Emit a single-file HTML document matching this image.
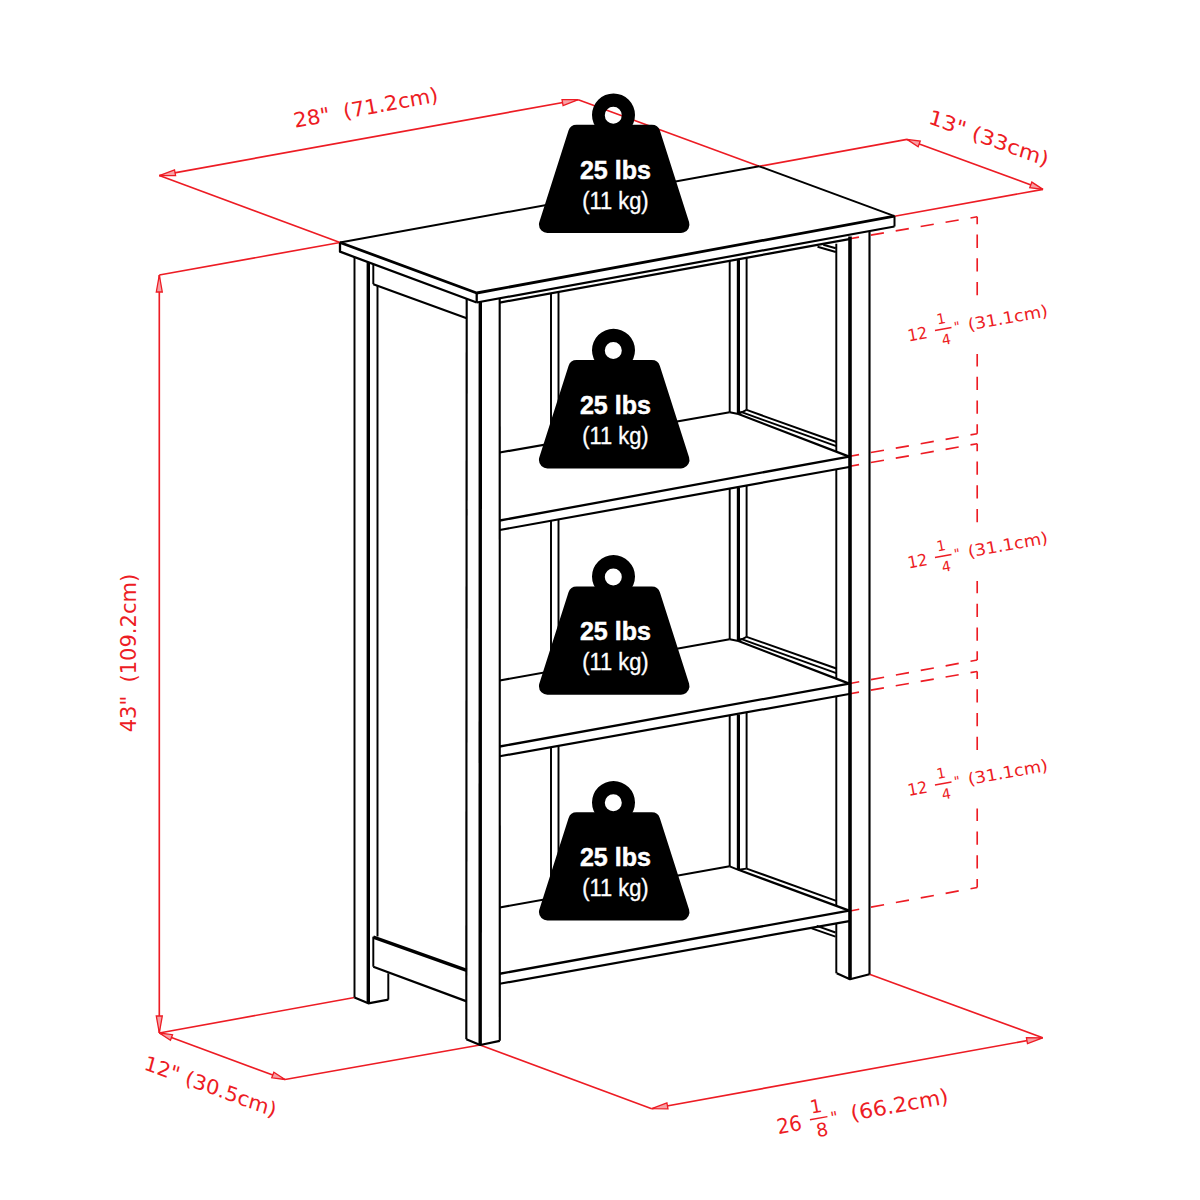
<!DOCTYPE html>
<html lang="en"><head><meta charset="utf-8"><title>Bookshelf dimensions</title>
<style>
html,body{margin:0;padding:0;background:#fff;}
body{width:1200px;height:1200px;overflow:hidden;}
svg{display:block;}
</style></head><body>
<svg width="1200" height="1200" viewBox="0 0 1200 1200">
<rect width="1200" height="1200" fill="#fff"/>
<g id="dims" stroke-linecap="butt">
<line x1="159.30" y1="175.60" x2="578.30" y2="99.70" stroke="#ed1c24" stroke-width="1.65" />
<polygon points="159.30,175.60 175.58,175.70 174.51,169.80" stroke="#ed1c24" stroke-width="1.3" fill="#f7a1a5" stroke-linejoin="miter"/>
<polygon points="578.30,99.70 562.02,99.60 563.09,105.50" stroke="#ed1c24" stroke-width="1.3" fill="#f7a1a5" stroke-linejoin="miter"/>
<line x1="159.30" y1="175.60" x2="340.00" y2="242.50" stroke="#ed1c24" stroke-width="1.65" />
<line x1="578.30" y1="99.70" x2="759.20" y2="166.30" stroke="#ed1c24" stroke-width="1.65" />
<line x1="759.20" y1="166.30" x2="907.00" y2="139.40" stroke="#ed1c24" stroke-width="1.65" />
<line x1="907.00" y1="139.40" x2="1043.00" y2="189.40" stroke="#ed1c24" stroke-width="1.65" />
<polygon points="907.00,139.40 918.17,146.70 920.24,141.07" stroke="#ed1c24" stroke-width="1.3" fill="#f7a1a5" stroke-linejoin="miter"/>
<polygon points="1043.00,189.40 1031.83,182.10 1029.76,187.73" stroke="#ed1c24" stroke-width="1.3" fill="#f7a1a5" stroke-linejoin="miter"/>
<line x1="894.50" y1="216.20" x2="1043.00" y2="189.40" stroke="#ed1c24" stroke-width="1.65" />
<line x1="340.00" y1="242.50" x2="159.30" y2="275.00" stroke="#ed1c24" stroke-width="1.65" />
<line x1="159.30" y1="275.00" x2="159.30" y2="1033.00" stroke="#ed1c24" stroke-width="1.65" />
<polygon points="159.30,275.00 156.30,292.00 162.30,292.00" stroke="#ed1c24" stroke-width="1.3" fill="#f7a1a5" stroke-linejoin="miter"/>
<polygon points="159.30,1033.00 162.30,1016.00 156.30,1016.00" stroke="#ed1c24" stroke-width="1.3" fill="#f7a1a5" stroke-linejoin="miter"/>
<line x1="354.50" y1="997.50" x2="159.30" y2="1033.00" stroke="#ed1c24" stroke-width="1.65" />
<line x1="159.30" y1="1033.00" x2="285.00" y2="1079.50" stroke="#ed1c24" stroke-width="1.65" />
<polygon points="159.30,1033.00 170.45,1040.32 172.53,1034.70" stroke="#ed1c24" stroke-width="1.3" fill="#f7a1a5" stroke-linejoin="miter"/>
<polygon points="285.00,1079.50 273.85,1072.18 271.77,1077.80" stroke="#ed1c24" stroke-width="1.3" fill="#f7a1a5" stroke-linejoin="miter"/>
<line x1="285.00" y1="1079.50" x2="480.00" y2="1045.00" stroke="#ed1c24" stroke-width="1.65" />
<line x1="480.00" y1="1045.00" x2="651.70" y2="1108.70" stroke="#ed1c24" stroke-width="1.65" />
<line x1="651.70" y1="1108.70" x2="1042.70" y2="1037.80" stroke="#ed1c24" stroke-width="1.65" />
<polygon points="651.70,1108.70 667.98,1108.80 666.91,1102.89" stroke="#ed1c24" stroke-width="1.3" fill="#f7a1a5" stroke-linejoin="miter"/>
<polygon points="1042.70,1037.80 1026.42,1037.70 1027.49,1043.61" stroke="#ed1c24" stroke-width="1.3" fill="#f7a1a5" stroke-linejoin="miter"/>
<line x1="869.50" y1="974.20" x2="1042.70" y2="1037.80" stroke="#ed1c24" stroke-width="1.65" />
</g>
<g id="dashed" fill="none">
<path d="M977.20 216.80L850.00 238.70" stroke="#ed1c24" stroke-width="1.65" stroke-dasharray="13.3 12" stroke-dashoffset="6.5"/>
<path d="M977.2 216.80L977.2 433.75" stroke="#ed1c24" stroke-width="1.65" stroke-dasharray="13.3 10.4" stroke-dashoffset="5.9"/>
<path d="M977.20 433.75L850.00 456.25" stroke="#ed1c24" stroke-width="1.65" stroke-dasharray="13.3 12" stroke-dashoffset="6.5"/>
<path d="M977.20 443.75L850.00 466.25" stroke="#ed1c24" stroke-width="1.65" stroke-dasharray="13.3 12" stroke-dashoffset="6.5"/>
<path d="M977.2 443.75L977.2 660.00" stroke="#ed1c24" stroke-width="1.65" stroke-dasharray="13.3 10.4" stroke-dashoffset="5.9"/>
<path d="M977.20 660.00L850.00 683.50" stroke="#ed1c24" stroke-width="1.65" stroke-dasharray="13.3 12" stroke-dashoffset="6.5"/>
<path d="M977.20 671.50L850.00 693.75" stroke="#ed1c24" stroke-width="1.65" stroke-dasharray="13.3 12" stroke-dashoffset="6.5"/>
<path d="M977.2 671.50L977.2 887.50" stroke="#ed1c24" stroke-width="1.65" stroke-dasharray="13.3 10.4" stroke-dashoffset="5.9"/>
<path d="M977.20 887.50L850.00 911.00" stroke="#ed1c24" stroke-width="1.65" stroke-dasharray="13.3 12" stroke-dashoffset="6.5"/>
</g>
<g id="furniture" stroke-linecap="butt" stroke-linejoin="round">
<polygon points="340.00,242.50 476.70,293.00 894.50,216.20 759.20,166.30" stroke="#000" stroke-width="0" fill="#fff" />
<polygon points="340.00,242.50 340.00,251.70 476.70,302.50 476.70,293.00" stroke="#000" stroke-width="0" fill="#fff" />
<polygon points="476.70,293.00 476.70,302.50 894.50,226.50 894.50,216.20" stroke="#000" stroke-width="0" fill="#fff" />
<line x1="340.00" y1="242.50" x2="759.20" y2="166.30" stroke="#000" stroke-width="1.95" />
<line x1="759.20" y1="166.30" x2="894.50" y2="216.20" stroke="#000" stroke-width="1.95" />
<polyline points="340.00,242.50 476.70,293.00 894.50,216.20" stroke="#000" stroke-width="2.8" fill="none" />
<polyline points="340.00,242.50 340.00,251.70 476.70,302.50" stroke="#000" stroke-width="2.3" fill="none" />
<line x1="476.70" y1="302.50" x2="894.50" y2="226.50" stroke="#000" stroke-width="2.2" />
<line x1="476.70" y1="293.00" x2="476.70" y2="302.50" stroke="#000" stroke-width="2.3" />
<line x1="894.50" y1="216.20" x2="894.50" y2="226.50" stroke="#000" stroke-width="2.0" />
<line x1="354.50" y1="257.09" x2="354.50" y2="997.50" stroke="#000" stroke-width="1.95" />
<line x1="368.30" y1="262.22" x2="368.30" y2="1003.30" stroke="#000" stroke-width="3.4" />
<line x1="388.30" y1="973.30" x2="388.30" y2="999.70" stroke="#000" stroke-width="1.95" />
<polyline points="354.50,997.50 368.30,1003.30 388.30,999.70" stroke="#000" stroke-width="2.2" fill="none" />
<line x1="373.30" y1="264.07" x2="373.30" y2="284.20" stroke="#000" stroke-width="1.95" />
<line x1="373.30" y1="284.20" x2="466.70" y2="318.20" stroke="#000" stroke-width="2.2" />
<line x1="377.50" y1="285.80" x2="377.50" y2="936.50" stroke="#000" stroke-width="1.95" />
<line x1="373.30" y1="937.20" x2="466.70" y2="970.30" stroke="#000" stroke-width="3.4" />
<line x1="373.30" y1="936.70" x2="373.30" y2="966.70" stroke="#000" stroke-width="1.95" />
<line x1="373.30" y1="966.70" x2="466.70" y2="1001.40" stroke="#000" stroke-width="2.2" />
<line x1="466.70" y1="298.78" x2="466.30" y2="1039.20" stroke="#000" stroke-width="2.15" />
<line x1="480.30" y1="302.00" x2="480.20" y2="1045.00" stroke="#000" stroke-width="3.4" />
<line x1="499.70" y1="298.50" x2="499.80" y2="1040.80" stroke="#000" stroke-width="2.15" />
<polyline points="466.30,1039.20 480.20,1045.00 499.80,1040.80" stroke="#000" stroke-width="2.2" fill="none" />
<line x1="499.70" y1="302.60" x2="849.20" y2="239.10" stroke="#000" stroke-width="2.2" />
<line x1="551.00" y1="293.28" x2="551.00" y2="443.53" stroke="#000" stroke-width="1.95" />
<line x1="558.50" y1="291.92" x2="558.50" y2="442.22" stroke="#000" stroke-width="1.95" />
<line x1="729.70" y1="260.81" x2="729.70" y2="412.30" stroke="#000" stroke-width="1.95" />
<line x1="738.40" y1="260.03" x2="738.40" y2="414.00" stroke="#000" stroke-width="3.1999999999999997" />
<line x1="746.60" y1="257.74" x2="746.60" y2="409.90" stroke="#000" stroke-width="1.95" />
<line x1="836.30" y1="243.70" x2="836.30" y2="451.50" stroke="#000" stroke-width="1.95" />
<line x1="499.70" y1="452.50" x2="729.70" y2="412.30" stroke="#000" stroke-width="2.15" />
<polyline points="729.70,412.30 738.40,414.00 746.60,409.90" stroke="#000" stroke-width="1.95" fill="none" />
<line x1="738.40" y1="414.00" x2="849.20" y2="456.60" stroke="#000" stroke-width="2.2" />
<line x1="746.60" y1="409.90" x2="836.30" y2="442.00" stroke="#000" stroke-width="1.95" />
<line x1="740.20" y1="411.70" x2="836.30" y2="446.20" stroke="#000" stroke-width="1.95" />
<line x1="499.70" y1="520.50" x2="849.20" y2="456.60" stroke="#000" stroke-width="2.3" />
<line x1="499.70" y1="530.00" x2="849.20" y2="467.00" stroke="#000" stroke-width="2.2" />
<line x1="551.00" y1="520.75" x2="551.00" y2="671.31" stroke="#000" stroke-width="1.95" />
<line x1="558.50" y1="519.40" x2="558.50" y2="669.97" stroke="#000" stroke-width="1.95" />
<line x1="729.70" y1="488.54" x2="729.70" y2="639.30" stroke="#000" stroke-width="1.95" />
<line x1="738.40" y1="487.77" x2="738.40" y2="641.00" stroke="#000" stroke-width="3.1999999999999997" />
<line x1="746.60" y1="485.49" x2="746.60" y2="636.90" stroke="#000" stroke-width="1.95" />
<line x1="836.30" y1="469.83" x2="836.30" y2="678.00" stroke="#000" stroke-width="1.95" />
<line x1="499.70" y1="680.50" x2="729.70" y2="639.30" stroke="#000" stroke-width="2.15" />
<polyline points="729.70,639.30 738.40,641.00 746.60,636.90" stroke="#000" stroke-width="1.95" fill="none" />
<line x1="738.40" y1="641.00" x2="849.20" y2="683.60" stroke="#000" stroke-width="2.2" />
<line x1="746.60" y1="636.90" x2="836.30" y2="668.50" stroke="#000" stroke-width="1.95" />
<line x1="740.20" y1="638.70" x2="836.30" y2="673.20" stroke="#000" stroke-width="1.95" />
<line x1="499.70" y1="746.50" x2="849.20" y2="683.60" stroke="#000" stroke-width="2.3" />
<line x1="499.70" y1="756.25" x2="849.20" y2="694.00" stroke="#000" stroke-width="2.2" />
<line x1="551.00" y1="747.11" x2="551.00" y2="898.31" stroke="#000" stroke-width="1.95" />
<line x1="558.50" y1="745.78" x2="558.50" y2="896.97" stroke="#000" stroke-width="1.95" />
<line x1="729.70" y1="715.28" x2="729.70" y2="866.30" stroke="#000" stroke-width="1.95" />
<line x1="738.40" y1="714.53" x2="738.40" y2="869.80" stroke="#000" stroke-width="3.1999999999999997" />
<line x1="746.60" y1="712.27" x2="746.60" y2="868.60" stroke="#000" stroke-width="1.95" />
<line x1="836.30" y1="696.80" x2="836.30" y2="905.80" stroke="#000" stroke-width="1.95" />
<line x1="499.70" y1="907.50" x2="729.70" y2="866.30" stroke="#000" stroke-width="2.15" />
<polyline points="729.70,866.30 738.40,869.80 746.60,868.60" stroke="#000" stroke-width="1.95" fill="none" />
<line x1="738.40" y1="869.80" x2="849.20" y2="910.60" stroke="#000" stroke-width="2.2" />
<line x1="746.60" y1="868.60" x2="836.30" y2="900.80" stroke="#000" stroke-width="1.95" />
<line x1="499.70" y1="973.75" x2="849.20" y2="910.60" stroke="#000" stroke-width="2.3" />
<line x1="499.70" y1="983.75" x2="849.20" y2="921.10" stroke="#000" stroke-width="2.2" />
<line x1="836.30" y1="923.91" x2="836.30" y2="973.30" stroke="#000" stroke-width="1.95" />
<line x1="817.50" y1="246.70" x2="835.80" y2="252.00" stroke="#000" stroke-width="1.95" />
<line x1="823.30" y1="244.70" x2="835.80" y2="248.30" stroke="#000" stroke-width="1.95" />
<line x1="811.70" y1="928.30" x2="835.50" y2="936.70" stroke="#000" stroke-width="1.95" />
<line x1="816.70" y1="925.80" x2="835.50" y2="932.50" stroke="#000" stroke-width="1.95" />
<line x1="850.00" y1="236.50" x2="850.00" y2="979.20" stroke="#000" stroke-width="3.6" />
<line x1="869.50" y1="231.50" x2="869.50" y2="974.20" stroke="#000" stroke-width="2.15" />
<polyline points="836.70,973.30 850.00,979.20 869.50,974.20" stroke="#000" stroke-width="2.2" fill="none" />
</g>
<g transform="translate(0,0)">
<path fill-rule="evenodd" fill="#000" d="M592.0 114.9a21.5 21.5 0 1 0 43 0a21.5 21.5 0 1 0 -43 0ZM604.8000000000001 115.2a8.5 8.5 0 1 0 17 0a8.5 8.5 0 1 0 -17 0Z"/>
<polygon points="576.61,133.20 651.79,133.20 680.96,224.50 547.44,224.50" fill="#000" stroke="#000" stroke-width="17.0" stroke-linejoin="round"/>
<text x="615.4000000000001" y="178.8" text-anchor="middle" font-family="'Liberation Sans', sans-serif" font-weight="700" font-size="26.5" fill="#fff" stroke="#fff" stroke-width="0.5" textLength="71" lengthAdjust="spacingAndGlyphs">25 lbs</text>
<text x="615.4000000000001" y="208.7" text-anchor="middle" font-family="'Liberation Sans', sans-serif" font-size="23" fill="#fff" stroke="#fff" stroke-width="0.35" textLength="66.5" lengthAdjust="spacingAndGlyphs">(11 kg)</text>
</g>
<g transform="translate(0,235.4)">
<path fill-rule="evenodd" fill="#000" d="M592.0 114.9a21.5 21.5 0 1 0 43 0a21.5 21.5 0 1 0 -43 0ZM604.8000000000001 115.2a8.5 8.5 0 1 0 17 0a8.5 8.5 0 1 0 -17 0Z"/>
<polygon points="576.61,133.20 651.79,133.20 680.96,224.50 547.44,224.50" fill="#000" stroke="#000" stroke-width="17.0" stroke-linejoin="round"/>
<text x="615.4000000000001" y="178.8" text-anchor="middle" font-family="'Liberation Sans', sans-serif" font-weight="700" font-size="26.5" fill="#fff" stroke="#fff" stroke-width="0.5" textLength="71" lengthAdjust="spacingAndGlyphs">25 lbs</text>
<text x="615.4000000000001" y="208.7" text-anchor="middle" font-family="'Liberation Sans', sans-serif" font-size="23" fill="#fff" stroke="#fff" stroke-width="0.35" textLength="66.5" lengthAdjust="spacingAndGlyphs">(11 kg)</text>
</g>
<g transform="translate(0,461.7)">
<path fill-rule="evenodd" fill="#000" d="M592.0 114.9a21.5 21.5 0 1 0 43 0a21.5 21.5 0 1 0 -43 0ZM604.8000000000001 115.2a8.5 8.5 0 1 0 17 0a8.5 8.5 0 1 0 -17 0Z"/>
<polygon points="576.61,133.20 651.79,133.20 680.96,224.50 547.44,224.50" fill="#000" stroke="#000" stroke-width="17.0" stroke-linejoin="round"/>
<text x="615.4000000000001" y="178.8" text-anchor="middle" font-family="'Liberation Sans', sans-serif" font-weight="700" font-size="26.5" fill="#fff" stroke="#fff" stroke-width="0.5" textLength="71" lengthAdjust="spacingAndGlyphs">25 lbs</text>
<text x="615.4000000000001" y="208.7" text-anchor="middle" font-family="'Liberation Sans', sans-serif" font-size="23" fill="#fff" stroke="#fff" stroke-width="0.35" textLength="66.5" lengthAdjust="spacingAndGlyphs">(11 kg)</text>
</g>
<g transform="translate(0,687.6)">
<path fill-rule="evenodd" fill="#000" d="M592.0 114.9a21.5 21.5 0 1 0 43 0a21.5 21.5 0 1 0 -43 0ZM604.8000000000001 115.2a8.5 8.5 0 1 0 17 0a8.5 8.5 0 1 0 -17 0Z"/>
<polygon points="576.61,133.20 651.79,133.20 680.96,224.50 547.44,224.50" fill="#000" stroke="#000" stroke-width="17.0" stroke-linejoin="round"/>
<text x="615.4000000000001" y="178.8" text-anchor="middle" font-family="'Liberation Sans', sans-serif" font-weight="700" font-size="26.5" fill="#fff" stroke="#fff" stroke-width="0.5" textLength="71" lengthAdjust="spacingAndGlyphs">25 lbs</text>
<text x="615.4000000000001" y="208.7" text-anchor="middle" font-family="'Liberation Sans', sans-serif" font-size="23" fill="#fff" stroke="#fff" stroke-width="0.35" textLength="66.5" lengthAdjust="spacingAndGlyphs">(11 kg)</text>
</g>
<text transform="translate(295,127.8) rotate(-10.3)" font-family="'DejaVu Sans', 'Liberation Sans', sans-serif" font-size="20.5" fill="#ed1c24" text-anchor="start" textLength="146.5" lengthAdjust="spacingAndGlyphs" xml:space="preserve" style="white-space:pre">28"  (71.2cm)</text>
<text transform="translate(927.4,122.9) rotate(20.2) skewX(5)" font-family="'DejaVu Sans', 'Liberation Sans', sans-serif" font-size="20" fill="#ed1c24" text-anchor="start" textLength="127" lengthAdjust="spacingAndGlyphs" xml:space="preserve" style="white-space:pre">13" (33cm)</text>
<text transform="translate(136.3,732.3) rotate(-90)" font-family="'DejaVu Sans', 'Liberation Sans', sans-serif" font-size="20.8" fill="#ed1c24" text-anchor="start" textLength="158.5" lengthAdjust="spacingAndGlyphs" xml:space="preserve" style="white-space:pre">43"  (109.2cm)</text>
<text transform="translate(143,1069) rotate(20.2) skewX(5)" font-family="'DejaVu Sans', 'Liberation Sans', sans-serif" font-size="20" fill="#ed1c24" text-anchor="start" textLength="140" lengthAdjust="spacingAndGlyphs" xml:space="preserve" style="white-space:pre">12" (30.5cm)</text>
<g transform="translate(778.3,1134.2) rotate(-10.3)" font-family="'DejaVu Sans', 'Liberation Sans', sans-serif" fill="#ed1c24">
<text x="0" y="0" font-size="21" textLength="25" lengthAdjust="spacingAndGlyphs">26</text>
<text x="42.0" y="-14.3" font-size="18.5" text-anchor="middle">1</text>
<line x1="33.7" y1="-8.5" x2="51.5" y2="-8.5" stroke="#ed1c24" stroke-width="1.4"/>
<text x="43.8" y="10.0" font-size="18.5" text-anchor="middle">8</text>
<text x="58.1" y="-1.0" font-size="16" text-anchor="middle">"</text>
<text x="75" y="0" font-size="21" textLength="99" lengthAdjust="spacingAndGlyphs">(66.2cm)</text>
</g>
<rect x="970" y="296" width="14" height="58" fill="#fff"/>
<rect x="970" y="523" width="14" height="58" fill="#fff"/>
<rect x="970" y="750.5" width="14" height="58" fill="#fff"/>
<g transform="translate(908.7,341.5) rotate(-10.3)" font-family="'DejaVu Sans', 'Liberation Sans', sans-serif" fill="#ed1c24">
<text x="0" y="0" font-size="16.5" textLength="20" lengthAdjust="spacingAndGlyphs">12</text>
<text x="36.0" y="-11.5" font-size="14.3" text-anchor="middle">1</text>
<line x1="27.8" y1="-6.1" x2="44.6" y2="-6.1" stroke="#ed1c24" stroke-width="1.4"/>
<text x="37.4" y="9.7" font-size="14.3" text-anchor="middle">4</text>
<text x="50.4" y="-1.5" font-size="13" text-anchor="middle">"</text>
<text x="61.3" y="0" font-size="16.5" textLength="81" lengthAdjust="spacingAndGlyphs">(31.1cm)</text>
</g>
<g transform="translate(908.7,568.5) rotate(-10.3)" font-family="'DejaVu Sans', 'Liberation Sans', sans-serif" fill="#ed1c24">
<text x="0" y="0" font-size="16.5" textLength="20" lengthAdjust="spacingAndGlyphs">12</text>
<text x="36.0" y="-11.5" font-size="14.3" text-anchor="middle">1</text>
<line x1="27.8" y1="-6.1" x2="44.6" y2="-6.1" stroke="#ed1c24" stroke-width="1.4"/>
<text x="37.4" y="9.7" font-size="14.3" text-anchor="middle">4</text>
<text x="50.4" y="-1.5" font-size="13" text-anchor="middle">"</text>
<text x="61.3" y="0" font-size="16.5" textLength="81" lengthAdjust="spacingAndGlyphs">(31.1cm)</text>
</g>
<g transform="translate(908.7,796.0) rotate(-10.3)" font-family="'DejaVu Sans', 'Liberation Sans', sans-serif" fill="#ed1c24">
<text x="0" y="0" font-size="16.5" textLength="20" lengthAdjust="spacingAndGlyphs">12</text>
<text x="36.0" y="-11.5" font-size="14.3" text-anchor="middle">1</text>
<line x1="27.8" y1="-6.1" x2="44.6" y2="-6.1" stroke="#ed1c24" stroke-width="1.4"/>
<text x="37.4" y="9.7" font-size="14.3" text-anchor="middle">4</text>
<text x="50.4" y="-1.5" font-size="13" text-anchor="middle">"</text>
<text x="61.3" y="0" font-size="16.5" textLength="81" lengthAdjust="spacingAndGlyphs">(31.1cm)</text>
</g>
</svg>
</body></html>
